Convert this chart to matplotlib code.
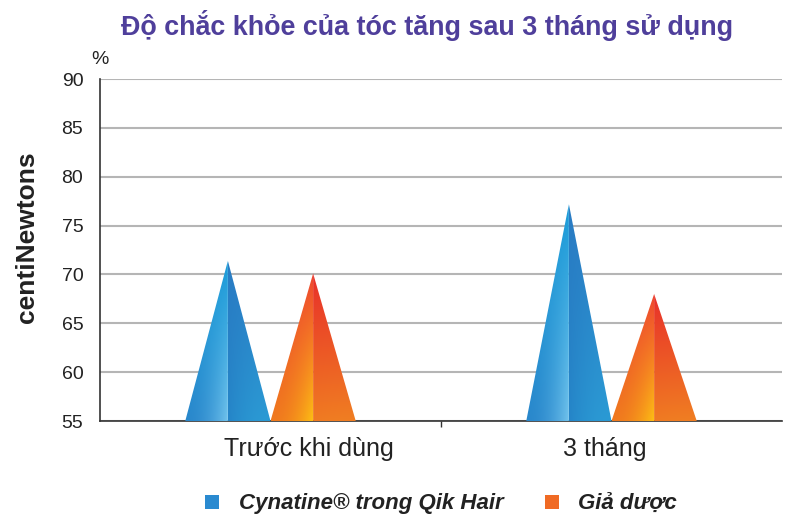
import numpy as np
import matplotlib
matplotlib.use("Agg")
import matplotlib.pyplot as plt
from matplotlib.patches import Polygon, Rectangle
from matplotlib.colors import to_rgb

categories = ["Trước khi dùng", "3 tháng"]
series_names = ["Cynatine® trong Qik Hair", "Giả dược"]
cynatine = [71.4, 77.2]
placebo = [70.1, 68.0]
yticks = [55, 60, 65, 70, 75, 80, 85, 90]

title = "Độ chắc khỏe của tóc tăng sau 3 tháng sử dụng"
ylabel = "centiNewtons"

# layout constants (label positions in data units)
label_x = [0.113, 0.981]
label_y = 52.15

fig = plt.figure(figsize=(8, 5.26), dpi=100)
ax = fig.add_axes([0.125, 0.1996, 0.8525, 0.6502])
ax.set_xlim(-0.5, 1.5)
ax.set_ylim(55, 90)
ax.set_yticks(yticks)
ax.set_yticklabels([str(v) for v in yticks], fontsize=14, family="Liberation Sans", color="#222222")
ax.tick_params(axis="y", length=0, pad=12)
ax.set_xticks([0.5])
ax.set_xticklabels([""])
ax.tick_params(axis="x", length=4, width=1, color="#333333", direction="out")
for s in ["top", "right"]:
    ax.spines[s].set_visible(False)
for s in ["left", "bottom"]:
    ax.spines[s].set_color("#333333")
    ax.spines[s].set_linewidth(1.2)
ax.yaxis.grid(True, color="#b5b5b5", linewidth=1.5)
ax.set_axisbelow(True)
for i, c in enumerate(categories):
    ax.text(label_x[i], label_y, c, ha="center", va="center", fontsize=18, family="Liberation Sans",
            color="#222222", clip_on=False)


def lerp(c1, c2, t):
    c1 = np.array(to_rgb(c1)); c2 = np.array(to_rgb(c2))
    return c1[None, None, :] * (1 - t[..., None]) + c2[None, None, :] * t[..., None]


def grad_img(top, bot_out, bot_in, side):
    ny, nx = 100, 40
    v = np.linspace(0, 1, ny)[:, None] * np.ones((1, nx))
    h = np.ones((ny, 1)) * np.linspace(0, 1, nx)[None, :]
    hc = h if side == "left" else 1 - h
    bottom = lerp(bot_out, bot_in, hc ** 2)
    topc = np.array(to_rgb(top))[None, None, :]
    return topc * (1 - v[..., None]) + bottom * v[..., None]


def draw_cone(xc, val, hw, left_cols, right_cols):
    base = 55
    for side, cols in (("left", left_cols), ("right", right_cols)):
        if side == "left":
            pts = [(xc - hw, base), (xc, val), (xc, base)]
            ext = (xc - hw, xc, base, val)
        else:
            pts = [(xc, base), (xc, val), (xc + hw, base)]
            ext = (xc, xc + hw, base, val)
        poly = Polygon(pts, closed=True, facecolor="none", edgecolor="none")
        ax.add_patch(poly)
        img = grad_img(*cols, side)
        im = ax.imshow(img, extent=ext, origin="upper", aspect="auto", zorder=3, interpolation="bilinear")
        im.set_clip_path(poly)


hw = 0.125
blue_left = ("#1a9ad8", "#2a88cc", "#70c2ec")
blue_right = ("#2a7cc4", "#2b9ad4", "#2585c8")
orange_left = ("#ee4630", "#f07a1e", "#fdc014")
orange_right = ("#e8302a", "#f07e22", "#f07a22")
for i in range(len(categories)):
    draw_cone(i - hw, cynatine[i], hw, blue_left, blue_right)
    draw_cone(i + hw, placebo[i], hw, orange_left, orange_right)

ax.set_xlim(-0.5, 1.5)
ax.set_ylim(55, 90)

fig.text(0.534, 0.951, title, ha="center", va="center", fontsize=19.4, fontweight="bold",
         color="#4f3f9b", family="Liberation Sans")
fig.text(0.125, 0.886, "%", ha="center", va="center", fontsize=14, family="Liberation Sans", color="#222222")
fig.text(0.034, 0.549, ylabel, ha="center", va="center", rotation=90, fontsize=19,
         fontweight="bold", family="Liberation Sans", color="#222222")

# legend
lg_font = ["Liberation Sans"]
fig.patches.append(Rectangle((205 / 800, 1 - 509 / 526), 14 / 800, 14 / 526, transform=fig.transFigure,
                             facecolor="#2a8ad0", edgecolor="none"))
fig.patches.append(Rectangle((545 / 800, 1 - 509 / 526), 14 / 800, 14 / 526, transform=fig.transFigure,
                             facecolor="#f06a24", edgecolor="none"))
fig.text(239 / 800, 1 - 509 / 526, series_names[0], ha="left", va="baseline", fontsize=16,
         fontweight="bold", style="italic", family=lg_font, color="#222222")
fig.text(578 / 800, 1 - 509 / 526, series_names[1], ha="left", va="baseline", fontsize=16,
         fontweight="bold", style="italic", family=lg_font, color="#222222")

fig.savefig("out.png", dpi=100)
